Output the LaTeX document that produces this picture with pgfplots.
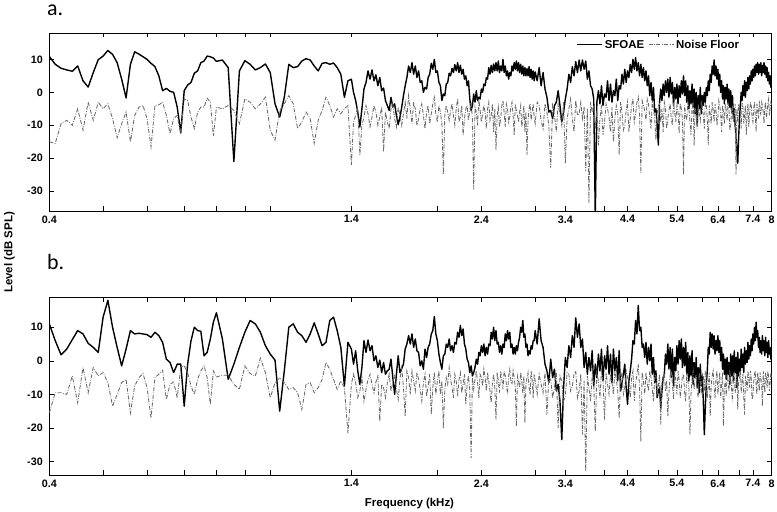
\documentclass[border=0pt]{standalone}
\usepackage{fontspec}
\setmainfont{Liberation Sans}
\newfontfamily\panelfont{Carlito}
\usepackage{pgfplots}
\usepackage{pgfplotstable}
\pgfplotsset{compat=1.18}
\definecolor{noisegray}{RGB}{104,104,104}

\pgfplotstableread{
f aS aN bS bN
0.40 10.9 -15.0 11.0 -15.5
0.41 8.5 -15.5 6.0 -9.5
0.42 7.3 -9.5 1.8 -9.5
0.43 6.8 -8.5 3.5 -10.0
0.44 6.4 -10.0 6.3 -4.5
0.45 8.0 -5.0 9.0 -12.5
0.46 3.5 -11.5 8.0 -2.0
0.47 1.6 -3.0 5.2 -9.5
0.48 6.0 -8.5 4.0 -2.0
0.49 9.9 -3.0 2.5 -4.5
0.50 11.0 -5.0 13.0 -3.5
0.51 12.7 -3.5 18.0 -6.5
0.52 11.5 -8.0 10.0 -13.5
0.53 9.0 -13.8 4.0 -10.0
0.54 4.0 -9.5 -1.5 -6.5
0.55 -1.7 -6.0 3.5 -5.5
0.56 8.5 -15.0 9.0 -15.5
0.57 12.3 -7.0 8.0 -7.5
0.58 11.6 -4.5 8.2 -5.0
0.59 10.8 -4.0 8.0 -3.8
0.60 10.0 -8.0 7.8 -8.0
0.61 8.8 -16.5 7.0 -17.0
0.62 7.8 -4.0 8.5 -5.0
0.63 5.0 -3.8 7.5 -4.0
0.64 0.5 -3.0 5.5 -2.8
0.65 1.2 -7.0 0.5 -11.5
0.66 0.3 -12.5 -0.5 -7.0
0.67 0.0 -8.0 -3.5 -6.3
0.68 -4.5 -7.0 -1.0 -11.0
0.69 -12.3 -12.5 -1.0 -2.0
0.70 0.5 -2.0 -13.5 -1.5
0.71 2.2 -2.5 -1.0 -3.5
0.72 3.0 -7.5 6.0 -7.5
0.73 5.8 -11.0 10.0 -10.0
0.74 6.5 -6.0 9.0 -5.5
0.75 9.0 -4.5 8.8 -3.0
0.76 9.5 -4.5 1.5 -1.5
0.77 11.0 -1.8 2.5 -5.0
0.78 10.8 -3.0 6.5 -13.0
0.79 10.4 -13.3 11.5 -3.0
0.80 9.4 -4.5 14.3 -4.8
0.82 9.8 -5.0 6.5 -4.3
0.84 7.5 -4.0 -5.5 -4.3
0.86 -21.0 -5.5 -1.0 -7.0
0.88 6.5 -9.5 4.0 -8.5
0.90 9.6 -2.0 8.5 -1.5
0.92 8.5 -3.0 12.0 -3.8
0.94 6.8 -5.0 11.0 -4.5
0.96 7.5 -3.5 8.5 0.8
0.98 8.6 -1.5 4.5 -3.5
1.00 6.0 -11.5 2.0 -11.0
1.02 -3.5 -14.5 0.2 -6.5
1.04 -7.5 -5.5 -15.0 -5.0
1.06 -1.5 -3.5 -3.0 -6.5
1.08 8.5 -1.0 10.0 -8.5
1.10 7.5 -3.5 11.0 -8.0
1.12 7.8 -11.0 8.5 -9.5
1.14 9.5 -9.0 7.5 -14.5
1.16 10.2 -6.0 5.5 -7.0
1.18 9.8 -8.0 8.0 -6.5
1.20 8.0 -15.5 11.3 -9.5
1.22 6.5 -8.5 8.0 -8.0
1.24 8.8 -5.5 4.5 -5.5
1.26 9.0 -1.5 5.5 -0.5
1.28 8.5 -4.0 12.0 -2.5
1.30 8.9 -7.5 13.0 -5.5
1.32 7.5 -5.0 9.0 -8.5
1.34 5.5 -6.5 4.0 -6.0
1.36 -1.5 -5.0 -7.5 -8.0
1.38 3.5 -4.0 5.5 -21.5
1.40 4.0 -22.0 3.5 -7.0
1.4125 0.0 -9.0 -1.0 -4.0
1.425 -2.5 -7.0 3.0 -6.5
1.4375 -6.0 -4.5 -3.0 -11.0
1.45 -10.5 -19.0 -7.0 -9.0
1.4625 -5.0 -10.0 -2.0 -5.0
1.475 1.0 -7.5 6.0 -12.0
1.4875 3.0 -4.0 2.5 -8.5
1.5 6.5 -6.5 6.2 -5.5
1.5125 4.0 -10.5 3.0 -4.0
1.525 6.8 -7.5 4.5 -7.0
1.5375 3.5 -4.0 0.0 -9.5
1.55 5.3 -6.0 1.5 -6.3
1.5625 2.0 -10.0 -2.0 -4.5
1.575 4.5 -7.5 0.2 -18.0
1.5875 0.5 -4.5 -3.5 -7.0
1.6 1.3 -18.0 -0.5 -8.0
1.6125 -2.5 -6.0 -4.0 -11.0
1.625 -4.0 -9.0 -3.0 -6.5
1.6375 -5.5 -11.0 -2.5 -4.0
1.65 -1.5 -5.0 0.5 -9.0
1.6625 -4.5 -3.5 -5.0 -6.5
1.675 -3.5 -8.0 -10.0 -4.0
1.6875 -7.0 -10.5 -4.0 -8.5
1.7 -9.8 -4.5 1.5 -11.5
1.7125 -7.5 -7.0 -3.5 -5.5
1.725 -4.5 -10.0 -2.3 -2.0
1.7375 -1.0 -6.5 -1.0 -8.0
1.75 2.0 -3.0 3.5 -16.5
1.7625 4.5 -8.0 5.0 -3.0
1.775 8.0 -1.0 7.5 -5.0
1.7875 6.0 -5.0 5.0 -10.0
1.8 9.0 -9.5 8.0 -3.0
1.8125 5.5 -3.0 4.0 -6.0
1.825 8.0 -5.0 6.5 -9.0
1.8375 4.5 -10.0 3.0 -3.5
1.85 6.5 -8.0 2.5 -5.5
1.8625 3.0 -5.0 -1.5 -8.5
1.875 3.5 -3.5 0.0 -12.0
1.8875 0.0 -7.0 -2.5 -6.5
1.9 1.5 -11.0 3.5 -4.0
1.9125 1.0 -6.0 1.0 -10.5
1.925 4.5 -4.0 4.0 -7.5
1.9375 5.5 -9.5 5.0 -4.0
1.95 8.8 -6.5 8.0 -16.0
1.9625 7.0 -3.5 9.0 -8.0
1.975 10.0 -1.5 13.2 -3.5
1.9875 6.0 -6.5 8.0 -10.0
2.0 6.5 -9.0 6.0 -6.0
2.0125 3.0 -4.0 2.0 -3.0
2.025 2.0 -6.0 -0.5 -10.0
2.0375 -2.5 -9.5 -2.5 -6.0
2.05 -0.5 -25.0 1.5 -20.0
2.0625 -1.0 -7.0 2.0 -8.5
2.075 2.5 -4.0 5.0 -5.0
2.0875 3.0 -6.0 4.0 -7.0
2.1 5.8 -8.5 6.5 -2.0
2.1125 5.0 -5.5 3.0 -5.5
2.125 7.3 -3.5 4.5 -8.0
2.1375 6.0 -7.0 2.5 -11.0
2.15 8.4 -10.0 5.5 -4.0
2.1625 6.5 -5.0 5.0 -6.0
2.175 9.0 -2.0 8.5 -10.5
2.1875 6.0 -9.0 7.0 -5.5
2.2 8.2 -7.5 10.5 -3.5
2.2125 5.5 -4.0 7.5 -9.5
2.225 7.0 -13.0 9.5 -7.0
2.2375 4.0 -8.0 5.0 -4.0
2.25 5.0 -5.0 3.5 -13.0
2.2625 2.0 -4.0 0.5 -7.0
2.275 3.5 -8.5 -0.5 -4.5
2.2875 -2.0 -5.5 -3.5 -9.0
2.3 -5.5 -3.0 -1.5 -29.0
2.3125 -4.0 -8.0 -4.5 -5.0
2.325 -0.5 -29.5 -3.5 -8.5
2.3375 -3.0 -4.5 -2.0 -5.5
2.35 0.5 -6.0 0.5 -3.0
2.3625 -2.5 -10.0 -1.0 -6.5
2.375 -1.5 -2.0 2.5 -11.0
2.3875 -2.0 -5.5 1.5 -4.0
2.4 1.0 -9.0 4.5 -5.0
2.4125 0.0 -6.5 2.5 -7.5
2.425 2.5 -4.0 5.0 -2.5
2.4375 2.0 -6.0 1.5 -5.0
2.45 4.5 -11.0 4.0 -9.0
2.4625 4.0 -5.0 2.0 -3.5
2.475 7.5 -3.0 5.0 -6.0
2.4875 5.5 -8.5 4.5 -9.0
2.5 8.2 -7.0 8.5 -12.5
2.5125 6.0 -3.5 6.5 -6.5
2.525 8.6 -12.0 10.0 -4.0
2.5375 6.5 -5.0 6.0 -8.0
2.55 9.0 -17.5 9.0 -17.5
2.5625 6.5 -7.0 5.0 -3.5
2.575 9.5 -4.5 5.5 -6.0
2.5875 6.0 -10.5 2.5 -9.5
2.6 8.0 -8.0 4.5 -3.0
2.6125 6.5 -4.0 2.0 -5.5
2.625 10.0 -2.5 5.0 -8.5
2.6375 6.0 -6.0 4.0 -3.0
2.65 8.0 -10.5 8.0 -4.5
2.6625 5.0 -3.5 6.0 -7.0
2.675 6.5 -5.0 9.0 -10.0
2.6875 4.0 -9.0 6.5 -4.5
2.7 6.0 -7.5 8.5 -2.5
2.7125 5.0 -4.5 4.0 -6.0
2.725 8.0 -3.0 5.0 -7.0
2.7375 6.5 -7.0 2.0 -3.0
2.75 9.0 -13.0 4.0 -5.0
2.7625 7.0 -3.5 2.0 -8.0
2.775 9.5 -5.5 4.5 -19.5
2.7875 6.5 -7.0 3.0 -4.5
2.8 9.0 -9.0 5.5 -6.0
2.8125 6.0 -6.0 7.0 -8.0
2.825 8.5 -4.0 10.0 -3.5
2.8375 5.5 -10.5 8.5 -6.0
2.85 8.0 -8.0 12.0 -9.5
2.8625 5.0 -4.0 7.0 -4.5
2.875 7.5 -12.0 8.0 -18.5
2.8875 5.0 -6.0 4.0 -7.0
2.9 7.2 -19.0 5.0 -5.0
2.9125 5.0 -9.0 1.5 -3.5
2.925 7.8 -5.0 3.0 -8.0
2.9375 4.5 -3.5 2.0 -10.0
2.95 7.0 -8.5 4.5 -3.0
2.9625 4.0 -6.0 3.5 -5.5
2.975 6.5 -3.5 6.0 -11.0
2.9875 3.5 -7.5 6.0 -4.0
3.0 6.2 -9.5 9.0 -6.0
3.025 3.5 -3.0 5.0 -10.0
3.05 7.5 -4.0 12.5 -4.0
3.075 2.0 -8.5 6.0 -7.0
3.1 6.0 -11.0 4.0 -9.5
3.125 1.0 -3.5 -1.0 -3.5
3.15 -1.5 -6.0 -3.0 -16.0
3.175 -6.0 -10.0 -6.5 -5.0
3.2 -5.5 -23.0 0.5 -5.5
3.225 -8.0 -4.0 -5.0 -11.0
3.25 -4.0 -7.0 -2.5 -8.0
3.275 -3.0 -12.0 -9.0 -3.5
3.3 0.5 -3.5 -7.0 -20.0
3.325 -4.0 -6.5 -12.0 -4.5
3.35 -9.0 -10.0 -23.5 -6.0
3.375 -6.0 -3.0 -8.0 -12.0
3.4 -2.0 -21.5 1.0 -10.5
3.425 1.0 -8.0 -2.0 -3.5
3.45 5.5 -5.0 4.5 -4.0
3.475 3.0 -2.0 1.0 -9.0
3.5 7.8 -8.0 7.5 -7.5
3.525 5.0 -12.0 4.0 -4.0
3.55 9.3 -2.5 12.8 -3.0
3.575 6.0 -7.0 7.0 -11.0
3.6 9.8 -6.5 11.0 -9.0
3.625 6.5 -3.0 4.0 -4.0
3.65 9.8 -8.0 6.5 -22.0
3.675 7.0 -4.5 -2.0 -6.0
3.7 9.5 -24.0 2.5 -33.0
3.725 4.0 -5.0 -4.0 -4.5
3.75 6.5 -33.5 1.0 -8.0
3.775 2.0 -3.0 -3.0 -12.0
3.8 1.0 -6.0 3.0 -4.5
3.825 -2.0 -4.0 -7.5 -6.5
3.85 -38.0 -11.0 -1.0 -21.0
3.875 -3.0 -5.5 -5.0 -3.5
3.9 0.5 -16.0 2.0 -6.0
3.925 -3.5 -8.0 -3.0 -11.0
3.95 2.0 -4.0 3.5 -3.0
3.975 -4.0 -13.0 -6.0 -6.0
4.0 -0.5 -9.0 1.5 -17.5
4.025 -1.5 -3.5 -2.5 -3.5
4.05 3.5 -5.0 4.5 -7.0
4.075 -2.5 -7.5 -4.0 -10.0
4.1 2.5 -12.0 2.0 -4.0
4.125 -3.0 -4.5 -6.5 -6.5
4.15 0.5 -15.0 3.5 -10.0
4.175 -1.0 -8.0 -3.0 -3.0
4.2 4.0 -4.0 1.0 -5.5
4.225 -2.5 -6.0 -6.0 -9.0
4.25 2.0 -19.0 3.0 -17.0
4.275 1.0 -3.0 -9.0 -5.5
4.3 5.5 -6.0 -6.5 -3.5
4.325 2.5 -11.5 -4.0 -10.0
4.35 7.0 -10.0 -1.0 -8.0
4.375 3.0 -5.5 -8.0 -3.0
4.4 6.5 -3.0 -13.0 -5.0
4.425 4.5 -12.0 -6.0 -6.5
4.45 8.5 -8.0 -3.0 -11.0
4.475 6.0 -4.0 0.5 -5.0
4.5 10.0 -2.0 6.0 -3.0
4.525 7.0 -9.0 5.0 -12.0
4.55 10.5 -6.5 12.0 -7.0
4.575 6.5 -3.0 8.0 -4.0
4.6 9.0 -1.5 16.5 -1.0
4.625 5.0 -7.0 9.0 -8.0
4.65 8.5 -24.5 10.0 -24.0
4.675 4.5 -2.5 4.0 -3.5
4.7 7.5 -4.0 5.0 -6.0
4.725 3.5 -5.5 1.0 -10.0
4.75 6.5 -8.5 5.5 -3.5
4.775 2.0 -2.0 -1.0 -6.5
4.8 5.0 -3.5 4.0 -9.0
4.825 -1.0 -7.5 0.0 -3.0
4.85 3.0 -11.0 5.0 -5.0
4.875 -2.5 -3.0 -4.0 -8.5
4.9 1.5 -5.0 1.0 -12.0
4.925 -6.0 -8.0 -6.5 -4.5
4.95 -5.0 -14.5 -3.0 -4.0
4.975 -10.0 -6.5 -11.0 -10.5
5.0 -16.0 -4.0 -9.0 -7.5
5.025 -3.0 -3.5 -8.0 -4.0
5.05 1.0 -9.0 -14.0 -19.0
5.075 -2.5 -5.0 -9.0 -6.5
5.1 2.5 -12.0 -5.0 -5.0
5.125 -1.0 -3.0 -4.0 -3.5
5.15 3.5 -5.0 2.0 -9.0
5.175 0.0 -11.0 -1.0 -6.0
5.2 4.0 -8.0 5.0 -16.5
5.225 -1.5 -5.5 -2.5 -9.5
5.25 4.5 -3.5 4.0 -4.5
5.275 -0.5 -8.0 -5.0 -3.0
5.3 3.0 -10.0 3.5 -7.0
5.325 -4.0 -3.0 -7.5 -11.5
5.35 1.5 -6.0 1.0 -3.0
5.375 -2.0 -9.0 -3.0 -6.0
5.4 2.5 -4.0 4.5 -10.0
5.425 -3.5 -6.0 -1.0 -3.0
5.45 2.0 -12.5 6.0 -5.5
5.475 -1.5 -3.5 0.5 -11.0
5.5 3.5 -5.0 6.5 -8.0
5.525 -0.5 -8.0 -2.0 -4.5
5.55 5.0 -25.0 4.0 -4.0
5.575 -1.0 -4.0 -1.5 -9.5
5.6 3.5 -7.0 5.5 -12.0
5.625 -3.0 -8.5 -4.0 -3.5
5.65 2.0 -3.0 2.5 -6.0
5.675 -5.0 -5.0 -6.0 -8.0
5.7 0.5 -9.0 1.5 -22.0
5.725 -3.5 -13.0 -4.5 -10.0
5.75 2.5 -4.5 3.0 -5.0
5.775 -4.5 -2.5 -7.0 -3.0
5.8 1.0 -16.0 -0.5 -8.5
5.825 -6.5 -5.0 -5.0 -5.5
5.85 0.0 -6.0 1.0 -4.0
5.875 -10.0 -11.0 -8.0 -9.0
5.9 -1.0 -3.5 -2.0 -11.0
5.925 -5.0 -6.5 -9.5 -3.5
5.95 1.5 -8.5 -1.0 -6.0
5.975 -6.5 -2.5 -7.5 -10.0
6.0 -1.0 -5.0 -4.5 -3.5
6.025 -4.0 -7.0 -12.0 -4.5
6.05 0.0 -11.0 -22.0 -9.0
6.075 -3.0 -3.0 -14.0 -3.0
6.1 1.5 -4.0 -7.0 -5.0
6.125 -1.0 -8.0 -3.0 -11.0
6.15 3.5 -16.0 4.0 -7.5
6.175 0.5 -4.0 2.0 -3.5
6.2 5.5 -6.5 8.5 -16.5
6.225 3.0 -9.5 4.0 -7.5
6.25 8.0 -3.0 8.0 -4.5
6.275 5.5 -5.0 3.5 -3.0
6.3 9.8 -9.0 7.5 -8.0
6.325 5.0 -3.5 2.0 -11.0
6.35 8.0 -5.5 6.0 -5.5
6.375 4.0 -10.0 3.0 -3.0
6.4 7.0 -7.5 7.5 -10.0
6.425 2.0 -2.5 2.5 -6.5
6.45 5.5 -4.0 6.0 -3.5
6.475 0.0 -6.5 0.0 -11.0
6.5 3.5 -12.0 4.0 -7.0
6.525 -2.0 -4.0 -2.5 -3.5
6.55 2.0 -6.0 2.0 -19.5
6.575 -3.5 -9.5 -4.0 -8.0
6.6 1.5 -3.5 0.5 -6.0
6.625 -2.0 -5.5 -5.5 -10.5
6.65 2.5 -8.5 1.0 -4.0
6.675 -3.5 -3.0 -4.0 -6.0
6.7 1.0 -5.0 -0.5 -9.0
6.725 -4.5 -11.5 -7.0 -3.5
6.75 0.5 -10.0 2.0 -5.0
6.775 -6.0 -5.5 -4.5 -8.5
6.8 -1.0 -4.0 1.5 -12.0
6.825 -8.0 -9.0 -6.0 -4.0
6.85 -5.0 -7.0 3.0 -3.5
6.875 -10.0 -3.5 -3.5 -9.5
6.9 -13.0 -25.0 1.0 -7.0
6.925 -18.0 -5.0 -8.0 -4.0
6.95 -21.5 -9.0 2.5 -14.5
6.975 -14.0 -3.5 -4.5 -6.0
7.0 -8.0 -5.0 0.5 -5.5
7.025 -4.0 -6.0 -3.0 -3.0
7.05 0.0 -11.0 3.5 -9.5
7.075 -2.5 -3.0 -2.0 -6.5
7.1 2.0 -4.0 2.0 -4.0
7.125 -1.0 -9.5 -3.5 -11.0
7.15 3.5 -7.0 4.0 -16.0
7.175 -1.5 -4.0 -1.0 -4.5
7.2 3.0 -13.0 3.0 -6.0
7.225 0.5 -6.5 -0.5 -9.0
7.25 4.5 -3.5 5.5 -3.0
7.275 1.0 -10.5 0.5 -5.5
7.3 5.0 -6.5 4.5 -8.0
7.325 2.5 -3.0 1.5 -3.0
7.35 6.5 -4.0 6.5 -5.0
7.375 3.5 -7.5 3.0 -11.5
7.4 7.0 -9.0 8.0 -10.5
7.425 4.5 -5.0 5.0 -6.5
7.45 8.0 -3.0 10.0 -4.0
7.475 5.0 -7.0 6.0 -3.0
7.5 8.5 -12.0 11.5 -7.0
7.525 6.0 -3.5 7.0 -10.0
7.55 9.0 -5.0 9.0 -3.5
7.575 5.5 -8.0 4.0 -6.0
7.6 8.5 -2.5 7.0 -9.0
7.625 6.0 -5.0 2.5 -3.5
7.65 9.0 -7.0 6.0 -5.0
7.675 5.0 -3.0 2.0 -7.5
7.7 8.2 -4.0 7.5 -13.5
7.725 6.0 -6.0 3.0 -3.0
7.75 9.0 -9.5 6.0 -6.0
7.775 5.5 -4.5 1.5 -9.5
7.8 8.0 -3.0 7.0 -3.5
7.825 4.5 -8.0 2.5 -5.0
7.85 7.5 -6.0 5.5 -8.0
7.875 3.5 -3.5 1.0 -3.0
7.9 6.0 -2.0 6.0 -4.5
7.925 2.5 -7.0 2.0 -9.0
7.95 5.0 -5.0 4.0 -6.5
7.975 1.5 -3.0 0.5 -3.5
8.0 4.0 -4.0 3.5 -5.0
}\datatab

\pgfplotsset{
  panel/.style={
    scale only axis, width=722.4bp, height=178bp,
    xmin=0.4, xmax=8,
    xminorticks=false, yminorticks=false,
    xtick={0.4,0.5,0.6,0.7,0.8,0.9,1,1.4,2,2.4,3,3.4,4,4.4,5,5.4,6,6.4,7,7.4,8},
    xticklabels={0.4,,,,,,,1.4,,2.4,,3.4,,4.4,,5.4,,6.4,,7.4,8},
    ytick={-30,-20,-10,0,10},
    yticklabels={-30,-20,-10,0,10},
    tick align=inside,
    major tick length=4.5bp,
    tick style={black, line width=0.6pt},
    axis line style={black, line width=0.8pt},
    ticklabel style={font=\fontsize{10.8}{12}\selectfont\bfseries},
    xticklabel style={yshift=-1bp},
    yticklabel style={xshift=-3bp},
    legend image code/.code={\draw[##1] (0bp,0bp) -- (25bp,0bp);},
  },
  sfoae/.style={black, line width=1.4pt, line join=round},
  noise/.style={noisegray, line width=0.85pt, dash pattern=on 4pt off 1.5pt on 0.8pt off 1.5pt},
}

\begin{document}
\begin{tikzpicture}
\path[use as bounding box] (0,0) rectangle (777bp,512bp);

\begin{semilogxaxis}[panel, at={(49.3bp,301bp)}, anchor=south west, ymin=-36, ymax=18,
  legend columns=2,
  legend style={draw=none, fill=none, at={(0.962,0.985)}, anchor=north east,
    font=\fontsize{11.5}{13}\selectfont\bfseries,
    /tikz/every even column/.append style={column sep=2bp}}]
\addplot[sfoae] table[x=f, y=aS] {\datatab};
\addplot[noise] table[x=f, y=aN] {\datatab};
\legend{SFOAE, Noise Floor}
\end{semilogxaxis}

\begin{semilogxaxis}[panel, at={(49.3bp,37bp)}, anchor=south west, ymin=-34, ymax=19]
\addplot[sfoae] table[x=f, y=bS] {\datatab};
\addplot[noise] table[x=f, y=bN] {\datatab};
\end{semilogxaxis}

\node[font=\panelfont\fontsize{22}{24}\selectfont, anchor=base west, inner sep=0pt] at (47bp,496bp) {a.};
\node[font=\panelfont\fontsize{22}{24}\selectfont, anchor=base west, inner sep=0pt] at (47bp,242bp) {b.};
\node[font=\fontsize{11.5}{13}\selectfont\bfseries, rotate=90] at (9.5bp,259.5bp) {Level (dB SPL)};
\node[font=\fontsize{11.5}{13}\selectfont\bfseries] at (409.5bp,8.5bp) {Frequency (kHz)};
\end{tikzpicture}
\end{document}
